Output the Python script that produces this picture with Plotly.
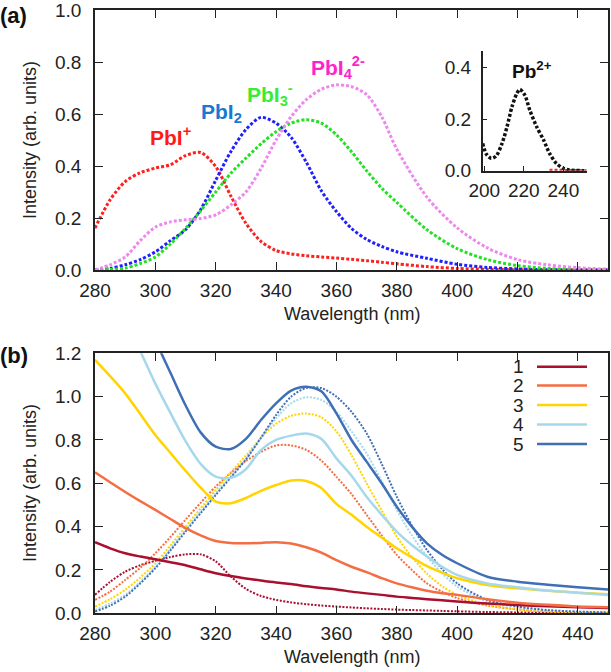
import plotly.graph_objects as go

# ---------------- data: panel (a) ----------------
wl_a = [280, 285, 290, 295, 300, 305, 310, 315, 320, 325, 330, 335, 340, 345, 350,
        355, 360, 365, 370, 375, 380, 390, 400, 410, 420, 430, 440, 450]
pbi_plus = [0.161, 0.27, 0.34, 0.374, 0.392, 0.405, 0.44, 0.452, 0.398, 0.285, 0.18, 0.11, 0.075, 0.062, 0.055,
            0.05, 0.046, 0.041, 0.036, 0.03, 0.024, 0.013, 0.006, 0.003, 0.001, 0.0, 0.0, 0.0]
pbi2 = [0.0, 0.006, 0.02, 0.04, 0.07, 0.113, 0.155, 0.232, 0.345, 0.455, 0.54, 0.587, 0.565, 0.51, 0.415,
        0.305, 0.225, 0.16, 0.118, 0.091, 0.07, 0.045, 0.022, 0.01, 0.004, 0.001, 0.0, 0.0]
pbi3 = [0.0, 0.002, 0.007, 0.025, 0.05, 0.1, 0.16, 0.228, 0.3, 0.372, 0.43, 0.485, 0.532, 0.565, 0.578,
        0.565, 0.52, 0.455, 0.382, 0.315, 0.26, 0.155, 0.082, 0.04, 0.017, 0.006, 0.002, 0.0]
pbi4 = [0.0, 0.02, 0.05, 0.113, 0.165, 0.185, 0.193, 0.198, 0.212, 0.25, 0.3, 0.39, 0.5, 0.59, 0.655,
        0.695, 0.712, 0.705, 0.675, 0.59, 0.465, 0.28, 0.162, 0.085, 0.04, 0.02, 0.009, 0.003]

# inset Pb2+
wl_pb = [199.2, 201, 203.5, 206, 209, 211.5, 214, 216.5, 218, 220.5, 223, 226.5, 230, 233,
         236.5, 240, 243, 246, 250, 251.8]
pb2 = [0.106, 0.065, 0.048, 0.057, 0.106, 0.17, 0.248, 0.3, 0.315, 0.293, 0.235, 0.17, 0.119, 0.067,
       0.028, 0.009, 0.003, 0.001, 0.0, 0.0]
wl_pb_red = [233, 238, 243, 248, 251.8]
pb_red = [0.002, 0.001, 0.001, 0.0, 0.0]

# ---------------- data: panel (b) ----------------
wl_b = [280, 285, 290, 295, 300, 305, 310, 315, 320, 325, 330, 335, 340, 345, 350, 355, 360, 365,
        370, 375, 380, 385, 390, 395, 400, 410, 420, 430, 440, 450]
exp1 = [0.328, 0.3, 0.277, 0.262, 0.249, 0.236, 0.222, 0.203, 0.185, 0.172, 0.161, 0.151, 0.142, 0.135,
        0.125, 0.117, 0.11, 0.1, 0.092, 0.085, 0.077, 0.071, 0.065, 0.06, 0.054, 0.045, 0.038, 0.033, 0.028, 0.025]
exp2 = [0.651, 0.605, 0.56, 0.518, 0.477, 0.435, 0.393, 0.36, 0.334, 0.325, 0.323, 0.325, 0.328, 0.322,
        0.305, 0.28, 0.245, 0.215, 0.19, 0.162, 0.138, 0.12, 0.104, 0.093, 0.085, 0.065, 0.049, 0.039, 0.031, 0.028]
exp3 = [1.17, 1.095, 1.015, 0.92, 0.823, 0.74, 0.658, 0.58, 0.515, 0.508, 0.532, 0.565, 0.592, 0.613,
        0.611, 0.578, 0.505, 0.455, 0.4, 0.35, 0.3, 0.258, 0.218, 0.188, 0.162, 0.131, 0.115, 0.104, 0.095, 0.088]
exp4 = [1.64, 1.5, 1.36, 1.21, 1.06, 0.925, 0.795, 0.69, 0.631, 0.625, 0.665, 0.754, 0.8, 0.82,
        0.83, 0.805, 0.715, 0.635, 0.538, 0.455, 0.377, 0.315, 0.262, 0.215, 0.177, 0.138, 0.12, 0.105, 0.095, 0.085]
exp5 = [1.9, 1.74, 1.58, 1.42, 1.26, 1.11, 0.96, 0.835, 0.769, 0.758, 0.805, 0.892, 0.969, 1.028,
        1.046, 1.025, 0.923, 0.8, 0.7, 0.6, 0.492, 0.4, 0.323, 0.27, 0.231, 0.169, 0.146, 0.132, 0.12, 0.11]
fit1 = [0.085, 0.145, 0.192, 0.222, 0.242, 0.26, 0.272, 0.272, 0.24, 0.17, 0.113, 0.08, 0.062, 0.05,
        0.042, 0.036, 0.031, 0.027, 0.023, 0.02, 0.017, 0.015, 0.013, 0.011, 0.009, 0.006, 0.004, 0.002, 0.001, 0.0]
fit2 = [0.062, 0.1, 0.154, 0.21, 0.277, 0.352, 0.432, 0.51, 0.585, 0.648, 0.703, 0.745, 0.775, 0.775,
        0.754, 0.705, 0.63, 0.55, 0.455, 0.36, 0.27, 0.2, 0.138, 0.1, 0.07, 0.036, 0.018, 0.008, 0.004, 0.002]
fit3 = [0.031, 0.065, 0.108, 0.165, 0.231, 0.313, 0.4, 0.485, 0.569, 0.65, 0.728, 0.81, 0.875, 0.912,
        0.922, 0.905, 0.84, 0.73, 0.6, 0.475, 0.354, 0.26, 0.183, 0.125, 0.085, 0.038, 0.018, 0.008, 0.004, 0.002]
fit4 = [0.015, 0.045, 0.085, 0.145, 0.215, 0.298, 0.385, 0.47, 0.554, 0.632, 0.712, 0.81, 0.9, 0.97,
        0.997, 0.985, 0.93, 0.84, 0.738, 0.61, 0.477, 0.36, 0.262, 0.185, 0.123, 0.054, 0.028, 0.013, 0.007, 0.003]
fit5 = [0.008, 0.035, 0.077, 0.138, 0.208, 0.29, 0.377, 0.462, 0.546, 0.627, 0.71, 0.81, 0.915, 1.0,
        1.04, 1.04, 1.0, 0.93, 0.831, 0.69, 0.538, 0.405, 0.292, 0.205, 0.138, 0.062, 0.031, 0.015, 0.008, 0.004]

legend_labels = ["1", "2", "3", "4", "5"]
colors_b = ["#a8102e", "#f46d43", "#ffd400", "#a6d8ec", "#3f6fb5"]

x_ticks = [280, 300, 320, 340, 360, 380, 400, 420, 440]
ya_ticks = [0.0, 0.2, 0.4, 0.6, 0.8, 1.0]
yb_ticks = [0.0, 0.2, 0.4, 0.6, 0.8, 1.0, 1.2]
inset_xticks = [200, 220, 240]
inset_yticks = [0.0, 0.2, 0.4]

FONT = "Liberation Sans, Arial, sans-serif"
W, H = 611, 672

fig = go.Figure()

# panel (a)
top_series = [
    (pbi_plus, "#ff1f1f"),
    (pbi2, "#1f1fff"),
    (pbi3, "#22e022"),
    (pbi4, "#ee88ee"),
]
for ys, c in top_series:
    fig.add_trace(go.Scatter(x=wl_a, y=ys, mode="lines", xaxis="x", yaxis="y",
                             line=dict(color=c, width=3, dash="3px,2px", shape="spline", smoothing=0.8),
                             showlegend=False, hoverinfo="skip"))

# inset
fig.add_trace(go.Scatter(x=wl_pb_red, y=pb_red, mode="lines", xaxis="x3", yaxis="y3",
                         line=dict(color="#e03030", width=3, dash="3px,2px"), showlegend=False, hoverinfo="skip"))
fig.add_trace(go.Scatter(x=wl_pb, y=pb2, mode="lines", xaxis="x3", yaxis="y3",
                         line=dict(color="#111111", width=3.5, dash="3px,2px", shape="spline", smoothing=0.8),
                         showlegend=False, hoverinfo="skip"))

# panel (b)
fits = [fit1, fit2, fit3, fit4, fit5]
exps = [exp1, exp2, exp3, exp4, exp5]
for ys, c in zip(fits, colors_b):
    fig.add_trace(go.Scatter(x=wl_b, y=ys, mode="lines", xaxis="x2", yaxis="y2",
                             line=dict(color=c, width=2, dash="2px,1.5px", shape="spline", smoothing=0.8),
                             showlegend=False, hoverinfo="skip"))
for ys, c, lab in zip(exps, colors_b, legend_labels):
    fig.add_trace(go.Scatter(x=wl_b, y=ys, mode="lines", xaxis="x2", yaxis="y2", name=lab,
                             line=dict(color=c, width=2.5, shape="spline", smoothing=0.8),
                             showlegend=False, hoverinfo="skip"))

def px_x(p):
    return p / W

def px_y(p):
    return 1 - p / H

TICKFONT = dict(family=FONT, size=19, color="#222222")
frame = dict(showline=True, linecolor="#222222", linewidth=1.5, mirror="allticks",
             ticks="inside", ticklen=8, tickwidth=1.3, tickcolor="#222222",
             showgrid=False, zeroline=False, automargin=False, tickfont=TICKFONT,
             ticklabeloverflow="allow")
inset_ax = dict(showline=True, linecolor="#222222", linewidth=1.5, ticks="inside", ticklen=5, tickwidth=1.3,
                tickcolor="#222222", showgrid=False, zeroline=False, automargin=False, tickfont=TICKFONT,
                ticklabeloverflow="allow")

xdom = [px_x(95), px_x(608)]
fig.update_layout(
    width=W, height=H,
    autosize=False,
    margin=dict(l=0, r=0, t=0, b=0, pad=0, autoexpand=False),
    paper_bgcolor="white", plot_bgcolor="rgba(0,0,0,0)",
    showlegend=False,
    xaxis=dict(domain=xdom, anchor="y", range=[280, 450], tickvals=x_ticks, ticklabelstandoff=2, **frame),
    yaxis=dict(domain=[px_y(270), px_y(10)], anchor="x", range=[0, 1.0], tickvals=ya_ticks,
               tickformat=".1f", ticklabelstandoff=8, **frame),
    xaxis2=dict(domain=xdom, anchor="y2", range=[280, 450], tickvals=x_ticks, ticklabelstandoff=2, **frame),
    yaxis2=dict(domain=[px_y(613.3), px_y(353.3)], anchor="x2", range=[0, 1.2], tickvals=yb_ticks,
                tickformat=".1f", ticklabelstandoff=8, **frame),
    xaxis3=dict(domain=[px_x(482.7), px_x(586.7)], anchor="y3", range=[199.2, 251.8], tickvals=inset_xticks,
                ticklabelstandoff=2, **inset_ax),
    yaxis3=dict(domain=[px_y(170.7), px_y(50.7)], anchor="x3", range=[0, 0.465], tickvals=inset_yticks,
                tickformat=".1f", ticklabelstandoff=6, **inset_ax),
)

ann = []
# species labels (panel a)
species = [
    ("PbI<sup>+</sup>", 305.0, 0.515, "#ff1a1a"),
    ("PbI<sub>2</sub>", 322.0, 0.605, "#1a78d2"),
    ("PbI<sub>3</sub><sup>-</sup>", 338.0, 0.675, "#33ee33"),
    ("PbI<sub>4</sub><sup>2-</sup>", 360.5, 0.78, "#ff22cc"),
]
for t, xx, yy, c in species:
    ann.append(dict(text="<b>" + t + "</b>", x=xx, y=yy, xref="x", yref="y", showarrow=False,
                    xanchor="center", yanchor="middle", font=dict(family=FONT, size=21, color=c)))
ann.append(dict(text="<b>Pb<sup>2+</sup></b>", x=224.0, y=0.39, xref="x3", yref="y3", showarrow=False,
                xanchor="center", yanchor="middle", font=dict(family=FONT, size=19, color="#111111")))

# axis titles
for ycen in [140, 483]:
    ann.append(dict(text="Intensity (arb. units)", x=px_x(30), y=px_y(ycen), xref="paper", yref="paper",
                    xanchor="center", yanchor="middle", showarrow=False, textangle=-90,
                    font=dict(family=FONT, size=18, color="#222222")))
for ycen in [314, 657]:
    ann.append(dict(text="Wavelength (nm)", x=px_x(351.5), y=px_y(ycen), xref="paper", yref="paper",
                    xanchor="center", yanchor="middle", showarrow=False,
                    font=dict(family=FONT, size=18, color="#222222")))
# panel letters
for lab, ycen in [("(a)", 15), ("(b)", 355)]:
    ann.append(dict(text="<b>" + lab + "</b>", x=px_x(-2), y=px_y(ycen), xref="paper", yref="paper",
                    xanchor="left", yanchor="middle", showarrow=False,
                    font=dict(family=FONT, size=22, color="#111111")))

# custom legend: number then line sample
legend_rows = [366.7, 385.5, 405, 424.5, 444]
shapes = []
for lab, c, ry in zip(legend_labels, colors_b, legend_rows):
    ann.append(dict(text=lab, x=px_x(526), y=px_y(ry), xref="paper", yref="paper", xanchor="right",
                    yanchor="middle", showarrow=False, font=dict(family=FONT, size=19, color="#222222")))
    shapes.append(dict(type="line", xref="paper", yref="paper", x0=px_x(537), x1=px_x(587),
                       y0=px_y(ry), y1=px_y(ry), line=dict(color=c, width=2.5)))

fig.update_layout(annotations=ann, shapes=shapes)
fig.write_html("out.html", config={"displayModeBar": False},
               post_script="document.body.style.margin='0px';")
